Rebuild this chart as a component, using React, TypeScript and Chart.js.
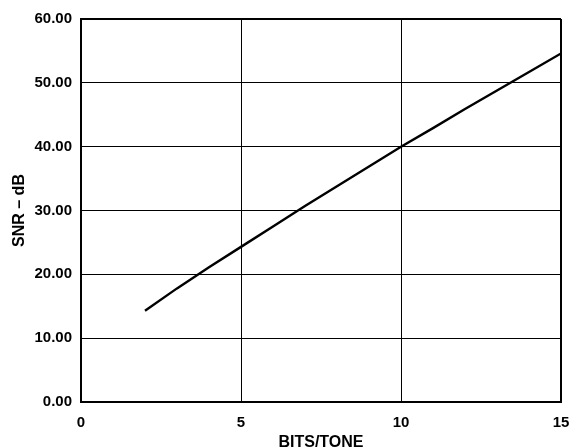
import React, { useEffect, useRef } from "react";
import { Chart, registerables } from "chart.js";

Chart.register(...registerables);

const bitsPerTone = [2, 3, 4, 5, 6, 7, 8, 9, 10, 11, 12, 13, 14, 15];
const snrDb = [14.3, 17.8, 21.1, 24.3, 27.5, 30.7, 33.8, 36.9, 40.0, 42.9, 45.9, 48.8, 51.7, 54.6];
const xTickValues = [0, 5, 10, 15];
const yTickValues = [0, 10, 20, 30, 40, 50, 60];
const xTitle = "BITS/TONE";
const yTitle = "SNR – dB";

const FONT = "'Liberation Sans', Arial, Helvetica, sans-serif";

export default function App() {
  const ref = useRef<HTMLCanvasElement | null>(null);

  useEffect(() => {
    if (!ref.current) return;
    const chart = new Chart(ref.current, {
      type: "line",
      data: {
        datasets: [
          {
            data: bitsPerTone.map((b, i) => ({ x: b, y: snrDb[i] })),
            borderColor: "#000",
            borderWidth: 2.4,
            pointRadius: 0,
            tension: 0,
            fill: false,
          },
        ],
      },
      options: {
        responsive: false,
        animation: false,
        layout: { padding: { left: 0, top: 19, right: 12, bottom: 0 } },
        plugins: { legend: { display: false }, tooltip: { enabled: false } },
        scales: {
          x: {
            type: "linear",
            min: xTickValues[0],
            max: xTickValues[xTickValues.length - 1],
            afterFit: (s: any) => {
              s.height = 46;
              s.paddingLeft = 0;
              s.paddingRight = 0;
            },
            afterBuildTicks: (s: any) => {
              s.ticks = xTickValues.map((v) => ({ value: v }));
            },
            grid: {
              color: "#000",
              lineWidth: (c: any) => (c.tick && c.tick.value === 15 ? 2 : 1),
              drawTicks: false,
            },
            border: { display: true, color: "#000", width: 2 },
            ticks: {
              color: "#000",
              padding: 12,
              font: { family: FONT, size: 15, weight: "bold" },
              callback: (v: any) => String(v),
            },
            title: {
              display: true,
              text: xTitle,
              color: "#000",
              font: { family: FONT, size: 16, weight: "bold", lineHeight: 1 },
              padding: { top: 0, bottom: -3 },
            },
          },
          y: {
            type: "linear",
            min: yTickValues[0],
            max: yTickValues[yTickValues.length - 1],
            afterFit: (s: any) => {
              s.width = 81;
              s.paddingTop = 0;
              s.paddingBottom = 0;
            },
            afterBuildTicks: (s: any) => {
              s.ticks = yTickValues.map((v) => ({ value: v }));
            },
            grid: {
              color: "#000",
              lineWidth: (c: any) => (c.tick && c.tick.value === 60 ? 2 : 1),
              drawTicks: false,
            },
            border: { display: true, color: "#000", width: 2 },
            ticks: {
              color: "#000",
              padding: 9,
              font: { family: FONT, size: 15, weight: "bold" },
              callback: (v: any) => Number(v).toFixed(2),
            },
            title: {
              display: true,
              text: yTitle,
              color: "#000",
              font: { family: FONT, size: 16, weight: "bold", lineHeight: 1 },
              padding: { top: 12, bottom: 0 },
            },
          },
        },
      },
    });
    return () => chart.destroy();
  }, []);

  return (
    <div style={{ position: "fixed", left: 0, top: 0, width: 573, height: 448, background: "#fff" }}>
      <canvas ref={ref} width={573} height={448} style={{ display: "block" }} />
    </div>
  );
}
